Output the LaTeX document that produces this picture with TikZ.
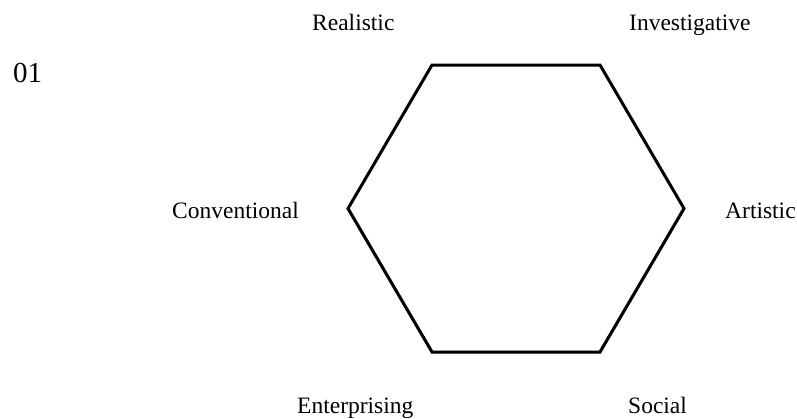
\documentclass[tikz,border=0pt]{standalone}
\usepackage{fontspec}
\setmainfont{Liberation Serif}
\begin{document}
\begin{tikzpicture}[x=1pt, y=-1pt, every node/.style={inner sep=0pt, anchor=base west, font=\fontsize{23.5}{28}\selectfont}]
    \useasboundingbox (0,0) rectangle (797,418);
    % Hexagon corners
    \coordinate (topleft) at (432,65);
    \coordinate (topright) at (600,65);
    \coordinate (right) at (684,208.5);
    \coordinate (bottomright) at (600,352);
    \coordinate (bottomleft) at (432,352);
    \coordinate (left) at (348,208.5);

    % Shadow on the lower edges, then the outline
    \draw[line width=3pt, black!22, shift={(2.5,2.5)}] (left) -- (bottomleft) -- (bottomright) -- (right);
    \draw[line width=3pt, line join=miter] (topleft) -- (topright) -- (right) -- (bottomright) -- (bottomleft) -- (left) -- cycle;

    % Labels
    \node (number) at (13,82) [font=\fontsize{29}{34}\selectfont] {01};
    \node (realistic) at (312,30) {Realistic};
    \node (investigative) at (629,30) {Investigative};
    \node (conventional) at (172,218) {Conventional};
    \node (artistic) at (725,218) {Artistic};
    \node (enterprising) at (297,413) {Enterprising};
    \node (social) at (628,413) {Social};
\end{tikzpicture}
\end{document}
